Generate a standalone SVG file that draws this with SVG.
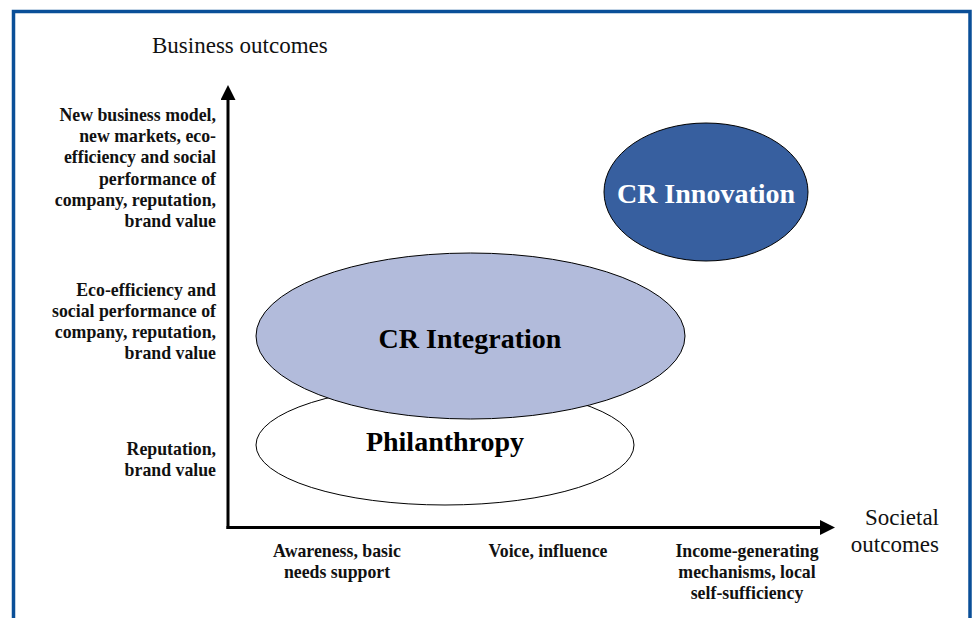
<svg xmlns="http://www.w3.org/2000/svg" width="972" height="618" viewBox="0 0 972 618">
<style>
.lab{font-family:"Liberation Serif","Times New Roman",serif;font-weight:bold;font-size:17.8px;fill:#111}
.ax{font-family:"Liberation Serif","Times New Roman",serif;font-size:23px;fill:#111}
.big{font-family:"Liberation Serif","Times New Roman",serif;font-weight:bold;font-size:28px}
.axis{stroke:#000;stroke-width:3;fill:none}
</style>
<defs>
<marker id="arr" markerWidth="5" markerHeight="5" refX="1" refY="2.5" orient="auto" markerUnits="strokeWidth"><path d="M0,0 L5,2.5 L0,5 Z" fill="#000"/></marker>
</defs>
<rect x="0" y="0" width="972" height="618" fill="#fff"/>
<path d="M13.5,625 L13.5,11.5 L970,11.5 L970,625" fill="none" stroke="#0a4f98" stroke-width="3.5"/>
<g id="axes">
<path class="axis" d="M228,529 L228,97" marker-end="url(#arr)"/>
<path class="axis" d="M226.5,527.5 L823,527.5" marker-end="url(#arr)"/>
</g>
<text class="ax" x="152" y="53">Business outcomes</text>
<text class="ax" text-anchor="end"><tspan x="939" y="525">Societal</tspan><tspan x="939" y="552">outcomes</tspan></text>
<g id="y-labels" class="lab" text-anchor="end">
<text><tspan x="216" y="121">New business model,</tspan><tspan x="216" y="142">new markets, eco-</tspan><tspan x="216" y="163">efficiency and social</tspan><tspan x="216" y="185">performance of</tspan><tspan x="216" y="206">company, reputation,</tspan><tspan x="216" y="227">brand value</tspan></text>
<text><tspan x="216" y="296">Eco-efficiency and</tspan><tspan x="216" y="317">social performance of</tspan><tspan x="216" y="338">company, reputation,</tspan><tspan x="216" y="359">brand value</tspan></text>
<text><tspan x="216" y="455">Reputation,</tspan><tspan x="216" y="476">brand value</tspan></text>
</g>
<g id="x-labels" class="lab" text-anchor="middle">
<text><tspan x="337" y="557">Awareness, basic</tspan><tspan x="337" y="578">needs support</tspan></text>
<text x="548" y="557">Voice, influence</text>
<text><tspan x="747" y="557">Income-generating</tspan><tspan x="747" y="578">mechanisms, local</tspan><tspan x="747" y="599">self-sufficiency</tspan></text>
</g>
<g id="philanthropy">
<ellipse cx="445" cy="445" rx="189" ry="60" fill="#fff" stroke="#000" stroke-width="1"/>
<text class="big" x="445" y="451" text-anchor="middle" fill="#000">Philanthropy</text>
</g>
<g id="cr-integration">
<ellipse cx="470.5" cy="336" rx="214.5" ry="83" fill="#b2bbdb" stroke="#000" stroke-width="1"/>
<text class="big" x="470" y="348" text-anchor="middle" fill="#000">CR Integration</text>
</g>
<g id="cr-innovation">
<ellipse cx="706" cy="192" rx="102" ry="69" fill="#375f9f" stroke="#000" stroke-width="1"/>
<text class="big" x="706" y="203" text-anchor="middle" fill="#fff">CR Innovation</text>
</g>
</svg>
